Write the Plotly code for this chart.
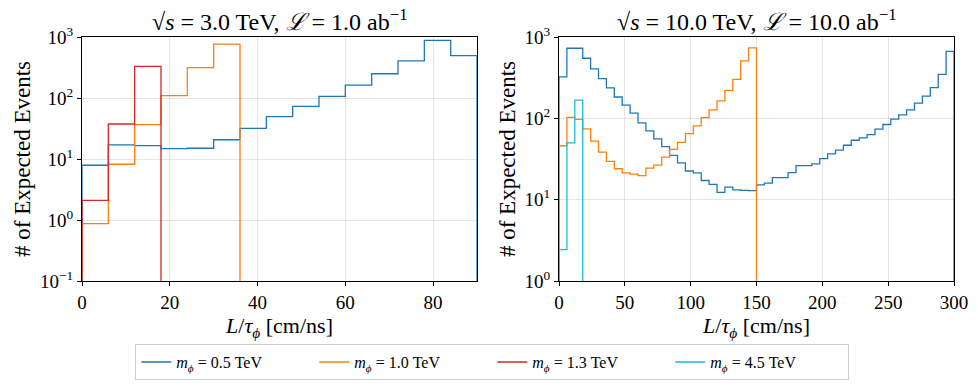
import numpy as np
import plotly.graph_objects as go

# bin edges (cm/ns)
edges_3tev = np.arange(0, 91, 6)
edges_10tev = np.arange(0, 301, 6)

# sqrt(s) = 3 TeV
ev3_m05 = [7.9, 17.0, 16.6, 14.8, 15.0, 20.7, 31.8, 49.5, 73.0, 106.0,
           163.0, 250.0, 405.0, 880.0, 495.0]
ev3_m10 = [0.87, 8.2, 36.5, 109.0, 314.0, 767.0]
ev3_m13 = [2.1, 37.5, 330.0]

# sqrt(s) = 10 TeV
ev10_m05 = [323, 727, 727, 548, 405, 308, 237, 183, 145, 116,
            88, 70, 56, 45, 35, 28.4, 22.5, 21.4, 17.2, 15.4,
            12.3, 14.3, 13.2, 13.0, 12.9, 15.2, 16.0, 18.7, 18.7, 21.5,
            26.2, 26.2, 27.5, 32.0, 36.5, 40.6, 46.7, 53.8, 57.5, 63.2,
            73.6, 84.0, 97.7, 110, 127, 154, 188, 238, 347, 666]
ev10_m10 = [46, 103, 97, 74, 52.6, 38.5, 29.5, 24.0, 21.4, 20.6,
            19.7, 24.4, 26.6, 33.4, 41.5, 50.6, 64.7, 81, 102, 127,
            164, 221, 302, 508, 736]
ev10_m45 = [2.43, 50, 167]

labels = ["0.5", "1.0", "1.3", "4.5"]
colors = ["#1f77b4", "#ff7f0e", "#d62728", "#17becf"]

left_exps = [-1, 0, 1, 2, 3]
right_exps = [0, 1, 2, 3]

FONT = "Liberation Serif"
W, H = 978, 386
# plot area pixel bounds
L1, R1, L2, R2 = 81.7, 476.7, 558.7, 953.7
TOP, BOT = 37.3, 281.0


def step_trace(edges, values, color, name, xaxis, yaxis, floor, show):
    """matplotlib-like histtype='step' outline"""
    n = len(values)
    xs = [edges[0]] + list(edges[:n]) + [edges[n]]
    ys = [floor] + list(values) + [floor]
    return go.Scatter(
        x=xs, y=ys, mode="lines", line={"shape": "hv", "color": color, "width": 1.3},
        name=name, legendgroup=name, showlegend=show, xaxis=xaxis, yaxis=yaxis,
    )


def legend_name(m):
    return f"<i>m</i><sub><i>ϕ</i></sub> = {m} TeV"


def pow_ticks(exps):
    return [10.0 ** e for e in exps], [f"10<sup>{'−' if e < 0 else ''}{abs(e)}</sup>" for e in exps]


fig = go.Figure()

# left panel
left_floor = 10.0 ** (left_exps[0] - 2)
fig.add_trace(step_trace(edges_3tev, ev3_m05, colors[0], legend_name(labels[0]), "x", "y", left_floor, True))
fig.add_trace(step_trace(edges_3tev, ev3_m10, colors[1], legend_name(labels[1]), "x", "y", left_floor, True))
fig.add_trace(step_trace(edges_3tev, ev3_m13, colors[2], legend_name(labels[2]), "x", "y", left_floor, True))

# right panel
right_floor = 10.0 ** (right_exps[0] - 2)
fig.add_trace(step_trace(edges_10tev, ev10_m05, colors[0], legend_name(labels[0]), "x2", "y2", right_floor, False))
fig.add_trace(step_trace(edges_10tev, ev10_m10, colors[1], legend_name(labels[1]), "x2", "y2", right_floor, False))
fig.add_trace(step_trace(edges_10tev, ev10_m45, colors[3], legend_name(labels[3]), "x2", "y2", right_floor, True))

axis_common = dict(
    showline=True, linecolor="black", linewidth=1.2, mirror=True,
    ticks="outside", ticklen=4, tickcolor="black", layer="above traces",
    showgrid=True, gridcolor="rgba(0,0,0,0.1)", gridwidth=1,
    zeroline=False, tickfont={"size": 19, "color": "black"}, automargin=False,
)

xtitle = "<i>L</i>/<i>τ</i><sub><i>ϕ</i></sub> [cm/ns]"
ytitle = "# of Expected Events"

pw = W - L1 - (W - R2)
lt_vals, lt_text = pow_ticks(left_exps)
rt_vals, rt_text = pow_ticks(right_exps)

fig.update_layout(
    width=W, height=H,
    margin={"l": L1, "r": W - R2, "t": TOP, "b": H - BOT, "autoexpand": False},
    paper_bgcolor="white", plot_bgcolor="white",
    font={"family": FONT, "color": "black", "size": 19},
    xaxis=dict(axis_common, domain=[0, (R1 - L1) / pw], range=[0, 90], dtick=20,
               title={"text": xtitle, "font": {"size": 22}, "standoff": 2}),
    yaxis=dict(axis_common, type="log", range=[left_exps[0], left_exps[-1]],
               tickvals=lt_vals, ticktext=lt_text,
               title={"text": ytitle, "font": {"size": 23}, "standoff": 2}),
    xaxis2=dict(axis_common, domain=[(L2 - L1) / pw, 1], range=[0, 300], dtick=50,
                anchor="y2", title={"text": xtitle, "font": {"size": 22}, "standoff": 2}),
    yaxis2=dict(axis_common, type="log", range=[right_exps[0], right_exps[-1]],
                tickvals=rt_vals, ticktext=rt_text, anchor="x2",
                title={"text": ytitle, "font": {"size": 23}, "standoff": 2}),
    legend=dict(
        orientation="h", x=(492 - L1) / pw, xanchor="center", y=-(344 - BOT) / (BOT - TOP),
        yanchor="top", bordercolor="#cccccc", borderwidth=1, font={"size": 16},
        entrywidth=133, entrywidthmode="pixels", traceorder="normal",
    ),
    annotations=[
        dict(text="√<i>s</i> = 3.0 TeV, <i>ℒ</i> = 1.0 ab<sup>−1</sup>", xref="paper", yref="paper",
             x=((L1 + R1) / 2 - L1) / pw, y=1.0, xanchor="center", yanchor="bottom",
             showarrow=False, font={"size": 24}),
        dict(text="√<i>s</i> = 10.0 TeV, <i>ℒ</i> = 10.0 ab<sup>−1</sup>", xref="paper", yref="paper",
             x=((L2 + R2) / 2 - L1) / pw, y=1.0, xanchor="center", yanchor="bottom",
             showarrow=False, font={"size": 24}),
    ],
)

# drop the browser's default 8px body margin so the figure sits at the page origin
fig.write_html("out.html", config={"displayModeBar": False},
               post_script="document.body.style.margin='0';")
